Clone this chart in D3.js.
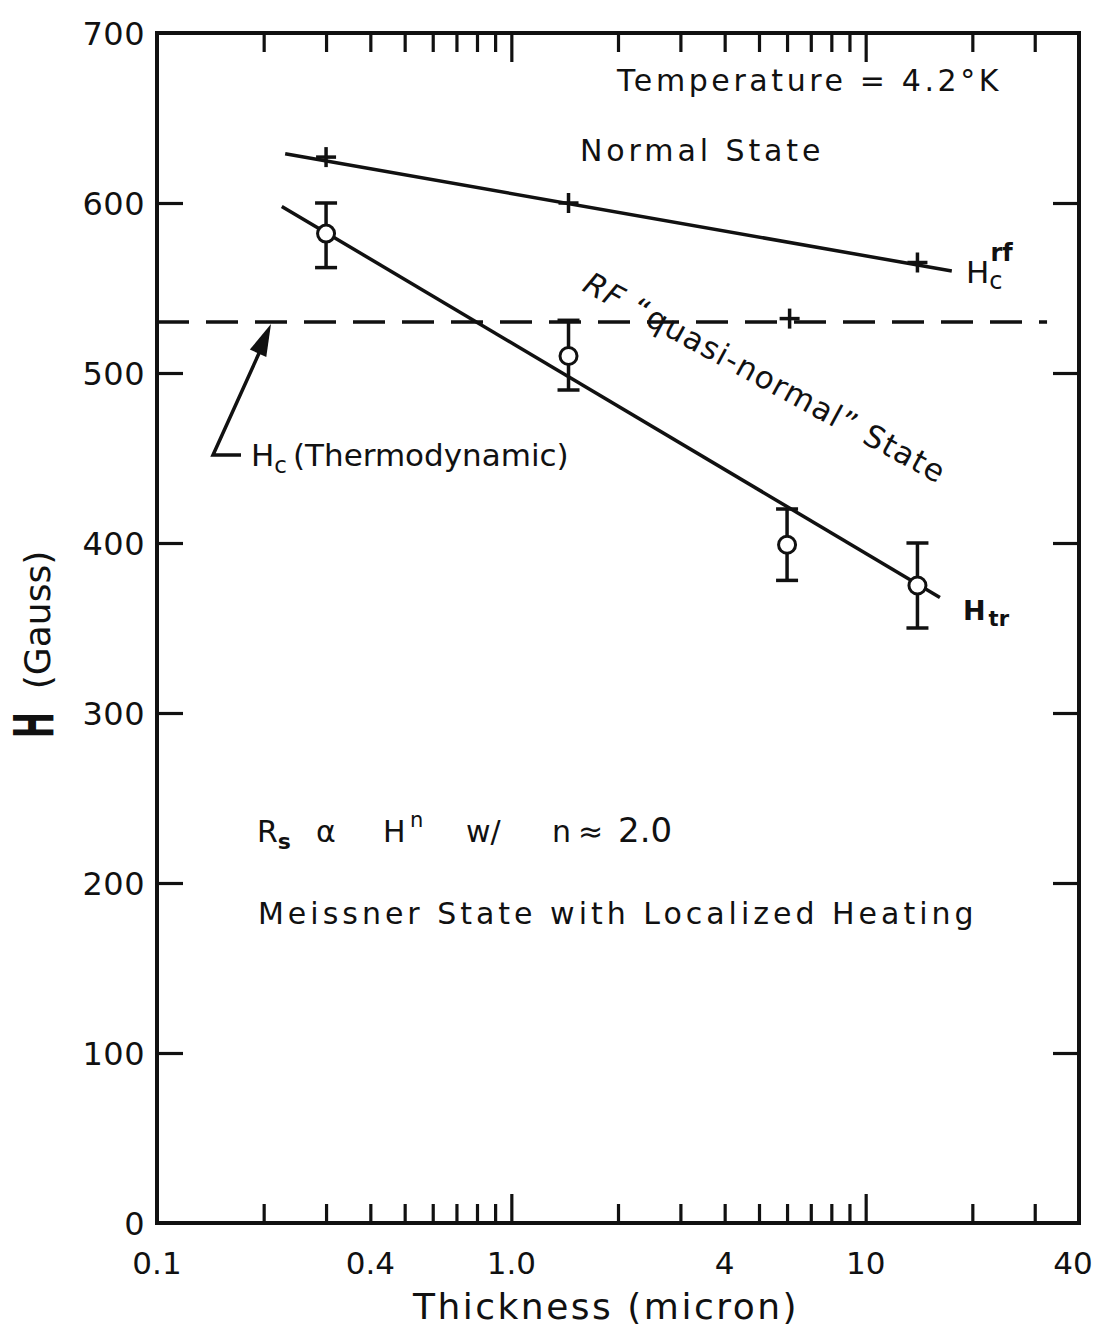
<!DOCTYPE html>
<html>
<head>
<meta charset="utf-8">
<script src="https://cdn.jsdelivr.net/npm/d3@7"></script>
<style>
  body { margin: 0; background: #fff; }
  svg { display: block; font-family: "DejaVu Sans", sans-serif; }
  .lbl { fill: #111; }
</style>
</head>
<body>
<svg id="chart" width="1097" height="1327"></svg>
<script>
// thickness (micron) vs field (gauss)
const hcrfPts = [{t: 0.3, h: 627}, {t: 1.45, h: 600}, {t: 14, h: 565}];
const hcrfLine = [{t: 0.23, h: 629}, {t: 17.5, h: 560}];
const htrPts = [
  {t: 0.3, h: 582, lo: 562, hi: 600},
  {t: 1.45, h: 510, lo: 490, hi: 531},
  {t: 6, h: 399, lo: 378, hi: 420},
  {t: 14, h: 375, lo: 350, hi: 400}
];
const htrLine = [{t: 0.225, h: 598}, {t: 16.2, h: 368}];
const hcThermo = 530;               // dashed thermodynamic Hc
const hcThermoSpan = [0.1, 32.5];
const quasiPt = {t: 6.1, h: 532};   // lone "+" on the dashed line

const xLabelTicks = [0.1, 0.4, 1, 4, 10, 40];
const xLabelText = ["0.1", "0.4", "1.0", "4", "10", "40"];
const xMinor = [0.2, 0.3, 0.4, 0.5, 0.6, 0.7, 0.8, 0.9, 2, 3, 4, 5, 6, 7, 8, 9, 20, 30];
const xDecade = [1, 10];
const yTicks = [0, 100, 200, 300, 400, 500, 600, 700];

const svg = d3.select("#chart");
const x = d3.scaleLog().domain([0.1, 40]).range([157, 1079]);
const y = d3.scaleLinear().domain([0, 700]).range([1223, 33]);

/* axes: ticks point inward on all four sides */
function styleAxis(g) {
  g.select(".domain").remove();
  g.selectAll("line").attr("stroke", "#111").attr("stroke-width", 3.2);
}
svg.append("g").attr("transform", `translate(0,${y(0)})`)
  .call(d3.axisBottom(x).tickValues(xMinor).tickSize(-19).tickFormat(""))
  .call(styleAxis);
svg.append("g").attr("transform", `translate(0,${y(0)})`)
  .call(d3.axisBottom(x).tickValues(xDecade).tickSize(-29).tickFormat(""))
  .call(styleAxis);
svg.append("g").attr("transform", `translate(0,${y(700)})`)
  .call(d3.axisTop(x).tickValues(xMinor).tickSize(-19).tickFormat(""))
  .call(styleAxis);
svg.append("g").attr("transform", `translate(0,${y(700)})`)
  .call(d3.axisTop(x).tickValues(xDecade).tickSize(-29).tickFormat(""))
  .call(styleAxis);
svg.append("g").attr("transform", `translate(${x(0.1)},0)`)
  .call(d3.axisLeft(y).tickValues(yTicks.slice(1, -1)).tickSize(-26).tickFormat(""))
  .call(styleAxis);
svg.append("g").attr("transform", `translate(${x(40)},0)`)
  .call(d3.axisRight(y).tickValues(yTicks.slice(1, -1)).tickSize(-26).tickFormat(""))
  .call(styleAxis);

// frame
svg.append("rect")
  .attr("x", x(0.1)).attr("y", y(700))
  .attr("width", x(40) - x(0.1)).attr("height", y(0) - y(700))
  .attr("fill", "none").attr("stroke", "#111").attr("stroke-width", 4);

// tick labels
svg.append("g").selectAll("text").data(yTicks).enter().append("text")
  .attr("class", "lbl")
  .attr("x", 145).attr("y", d => y(d)).attr("dy", "0.36em")
  .attr("text-anchor", "end").attr("font-size", 32).attr("letter-spacing", 0.5)
  .text(d => d);
svg.append("g").selectAll("text").data(xLabelTicks).enter().append("text")
  .attr("class", "lbl")
  .attr("x", d => x(d)).attr("y", 1274)
  .attr("dx", d => d === 40 ? -6 : 0)   // keep the last label inside the page
  .attr("text-anchor", "middle").attr("font-size", 31)
  .text((d, i) => xLabelText[i]);

// axis titles
svg.append("text").attr("class", "lbl")
  .attr("x", 606).attr("y", 1319).attr("text-anchor", "middle")
  .attr("font-size", 36).attr("letter-spacing", 2.5)
  .text("Thickness (micron)");
svg.append("text").attr("class", "lbl")
  .attr("transform", "translate(50,620) rotate(-90)")
  .attr("text-anchor", "middle").attr("font-size", 36)
  .text("(Gauss)");
svg.append("text").attr("class", "lbl")
  .attr("transform", "translate(53,725) rotate(-90) scale(0.55,1)")
  .attr("text-anchor", "middle").attr("font-size", 56).attr("font-weight", "bold")
  .text("H");

/* lines */
const line = d3.line().x(d => x(d.t)).y(d => y(d.h));
const plot = svg.append("g").attr("fill", "none").attr("stroke", "#111").attr("stroke-width", 3.5);

plot.append("path").attr("d", line(hcrfLine));
plot.append("path").attr("d", line(htrLine));
plot.append("path")
  .attr("d", line(hcThermoSpan.map(t => ({t: t, h: hcThermo}))))
  .attr("stroke-dasharray", "32,17");

// plus markers
const plusPts = hcrfPts.concat([quasiPt]);
plusPts.forEach(p => {
  const cx = x(p.t), cy = y(p.h);
  plot.append("line").attr("x1", cx - 10).attr("x2", cx + 10).attr("y1", cy).attr("y2", cy);
  plot.append("line").attr("x1", cx).attr("x2", cx).attr("y1", cy - 10).attr("y2", cy + 10);
});

// Htr error bars + open circles
htrPts.forEach(p => {
  const cx = x(p.t);
  plot.append("line").attr("x1", cx).attr("x2", cx).attr("y1", y(p.lo)).attr("y2", y(p.hi));
  [p.lo, p.hi].forEach(v => {
    plot.append("line").attr("x1", cx - 11).attr("x2", cx + 11).attr("y1", y(v)).attr("y2", y(v));
  });
});
plot.selectAll("circle").data(htrPts).enter().append("circle")
  .attr("cx", d => x(d.t)).attr("cy", d => y(d.h)).attr("r", 8.5)
  .attr("fill", "#fff").attr("stroke-width", 3);

// arrow to Hc (Thermodynamic)
const tip = [271, y(hcThermo) + 2], tail = [213, 455];
plot.append("path").attr("d", `M${tail[0] + 28},${tail[1]}L${tail[0]},${tail[1]}L${tip[0] - 6},${tip[1] + 16}`);
const ang = Math.atan2(tip[1] - tail[1], tip[0] - tail[0]);
const hl = 32, hw = 9;
const bx = tip[0] - hl * Math.cos(ang), by = tip[1] - hl * Math.sin(ang);
svg.append("path")
  .attr("d", `M${tip[0]},${tip[1]}L${bx + hw * Math.sin(ang)},${by - hw * Math.cos(ang)}L${bx - hw * Math.sin(ang)},${by + hw * Math.cos(ang)}Z`)
  .attr("fill", "#111");

/* annotations */
function note(px, py, size, txt, spacing) {
  return svg.append("text").attr("class", "lbl")
    .attr("x", px).attr("y", py).attr("font-size", size)
    .attr("letter-spacing", spacing || 0).text(txt);
}
note(617, 91, 30, "Temperature = 4.2°K", 1.5).attr("textLength", 383);
note(580, 161, 30, "Normal State", 1.5).attr("textLength", 242);
note(258, 924, 30, "Meissner State with Localized Heating", 1.5).attr("textLength", 717);

const hc = svg.append("text").attr("class", "lbl").attr("x", 251).attr("y", 466).attr("font-size", 31);
hc.append("tspan").text("H");
hc.append("tspan").attr("dy", 7).attr("font-size", 23).text("c");
hc.append("tspan").attr("dy", -7).attr("dx", 6).text("(Thermodynamic)");

const rf = svg.append("text").attr("class", "lbl").attr("x", 966).attr("y", 283).attr("font-size", 31);
rf.append("tspan").text("H");
rf.append("tspan").attr("dy", 6).attr("font-size", 24).text("c");
rf.append("tspan").attr("dy", -28).attr("dx", -12).attr("font-size", 24).attr("font-weight", "bold").text("rf");

const ht = svg.append("text").attr("class", "lbl").attr("x", 963).attr("y", 620).attr("font-size", 27).attr("font-weight", "bold");
ht.append("tspan").text("H");
ht.append("tspan").attr("dy", 6).attr("dx", 3).attr("font-size", 21).text("tr");

const q = svg.append("text").attr("class", "lbl")
  .attr("transform", "translate(581,290) rotate(28.5)")
  .attr("font-size", 31).attr("letter-spacing", 1.3);
q.append("tspan").attr("font-style", "italic").text("RF");
q.append("tspan").attr("dx", 12).text("\u201Cquasi-normal\u201D State");

// Rs α H^n w/ n ≈ 2.0 — pieces placed where they sit in the figure
const rsY = 842;
const rs = svg.append("text").attr("class", "lbl").attr("y", rsY).attr("font-size", 30);
rs.append("tspan").attr("x", 257).text("R");
rs.append("tspan").attr("dy", 7).attr("font-size", 22).attr("font-weight", "bold").text("s");
rs.append("tspan").attr("x", 316).attr("dy", -7).text("\u03B1");
rs.append("tspan").attr("x", 383).text("H");
rs.append("tspan").attr("x", 410).attr("dy", -15).attr("font-size", 21).text("n");
rs.append("tspan").attr("x", 466).attr("dy", 15).text("w/");
rs.append("tspan").attr("x", 552).text("n");
rs.append("tspan").attr("x", 578).text("\u2248");
rs.append("tspan").attr("x", 618).attr("font-size", 34).text("2.0");
</script>
</body>
</html>
